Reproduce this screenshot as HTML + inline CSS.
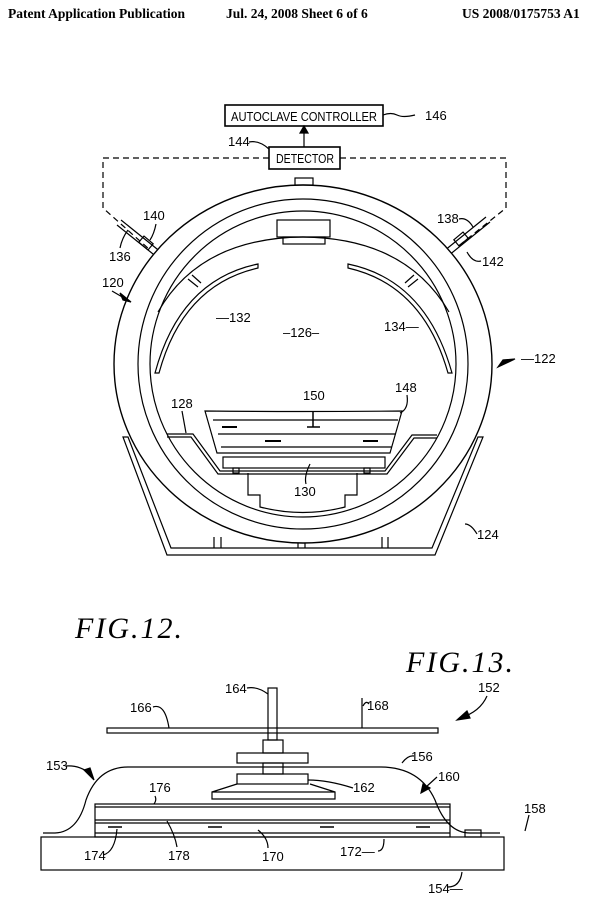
<!DOCTYPE html>
<html><head><meta charset="utf-8"><style>
html,body{margin:0;padding:0;background:#fff}
svg{display:block}
text{font-family:"Liberation Sans",sans-serif;font-size:13px;fill:#000}
.h{font-family:"Liberation Serif",serif;font-weight:bold;font-size:13.5px}
.f{font-family:"Liberation Serif",serif;font-style:italic;font-size:30px;letter-spacing:2px}
</style></head><body>
<svg width="612" height="902" viewBox="0 0 612 902" xmlns="http://www.w3.org/2000/svg">
<g fill="none" stroke="#000" stroke-width="1.2">
<text class="h" x="8" y="18" stroke="none">Patent Application Publication</text>
<text class="h" x="226" y="18" stroke="none">Jul. 24, 2008   Sheet 6 of 6</text>
<text class="h" x="462" y="18" stroke="none">US 2008/0175753 A1</text>

<!-- controller / detector -->
<rect x="225" y="105" width="158" height="21" stroke-width="1.6"/>
<text x="231" y="121" stroke="none" textLength="146" lengthAdjust="spacingAndGlyphs">AUTOCLAVE CONTROLLER</text>
<path d="M383 115 q8 -3 14 0 t18 0"/>
<text x="425" y="120" stroke="none">146</text>
<rect x="269" y="147" width="71" height="22" stroke-width="1.6"/>
<text x="276" y="163" stroke="none" textLength="58" lengthAdjust="spacingAndGlyphs">DETECTOR</text>
<path d="M304 147 V131"/><path d="M300 133 L304 126 L308 133 Z" fill="#000"/>
<text x="228" y="146" stroke="none">144</text>
<path d="M249 142 q10 -2 20 7"/>
<path d="M269 158 H103 V208 L150 250" stroke-dasharray="6,4"/>
<path d="M340 158 H506 V208 L456 248" stroke-dasharray="6,4"/>

<!-- base (behind rings) -->
<path d="M123 437 L167 555 H435 L483 437 L478 437 L432 548 H171 L128 437 Z" fill="#fff"/>
<path d="M214 537 V548 M221 537 V548 M298 537 V548 M305 537 V548 M382 537 V548 M388 537 V548"/>
<text x="477" y="539" stroke="none">124</text><path d="M465 524 q6 0 12 10"/>

<!-- probes -->
<path d="M117 225 L158 258 M121 220 L162 253"/>
<rect x="-6" y="-4" width="12" height="8" transform="translate(146 243) rotate(40)"/>
<path d="M490 222 L448 256 M486 217 L444 251"/>
<rect x="-6" y="-4" width="12" height="8" transform="translate(461 239) rotate(-40)"/>
<text x="109" y="261" stroke="none">136</text><path d="M120 248 q2 -10 8 -18"/>
<text x="143" y="220" stroke="none">140</text><path d="M156 224 q-2 10 -6 16"/>
<text x="437" y="223" stroke="none">138</text><path d="M459 219 q8 -2 14 8"/>
<text x="482" y="266" stroke="none">142</text><path d="M481 261 q-8 2 -14 -9"/>

<!-- vessel rings -->
<ellipse cx="303" cy="364" rx="189" ry="179" stroke-width="1.4" fill="#fff"/>
<ellipse cx="303" cy="364" rx="165" ry="165"/>
<ellipse cx="303" cy="364" rx="153" ry="153"/>
<path d="M158 312 Q200 238 303 237 Q406 238 449 312"/>
<rect x="295" y="178" width="18" height="7"/>
<rect x="277" y="220" width="53" height="17"/>
<rect x="283" y="237" width="42" height="7"/>

<!-- panels -->
<path d="M258 264 Q180 280 155 373 L159 373 Q183 285 258 268 Z"/>
<path d="M348 264 Q426 280 452 373 L448 373 Q423 285 348 268 Z"/>
<path d="M188 279 L198 287 M192 275 L201 283"/>
<path d="M418 279 L408 287 M414 275 L405 283"/>
<text x="216" y="322" stroke="none">—132</text>
<text x="384" y="331" stroke="none">134—</text>
<text x="283" y="337" stroke="none">–126–</text>

<!-- tray 128 -->
<path d="M167 434 H193 L220 471 H385 L412 435 H437"/>
<path d="M167 437 H191 L218 474 H387 L414 438 H437"/>
<text x="171" y="408" stroke="none">128</text><path d="M182 411 L186 433"/>
<!-- platform 130 -->
<rect x="223" y="457" width="162" height="11"/>
<rect x="233" y="468" width="6" height="5"/><rect x="364" y="468" width="6" height="5"/>
<path d="M248 473 V495 H260 V507 Q303 518 345 507 V495 H357 V473"/>
<text x="294" y="496" stroke="none">130</text><path d="M306 484 q-2 -8 4 -20"/>
<!-- hull 148 -->
<path d="M205 411 Q300 412 402 411 L390 453 H217 Z"/>
<path d="M213 420 H398 M218 434 H396 M221 447 H392"/>
<path d="M222 427 H237 M265 441 H281 M363 441 H378" stroke-width="2"/>
<path d="M313 412 V427 M307 427 H320" stroke-width="1.5"/>
<text x="303" y="400" stroke="none">150</text>
<text x="395" y="392" stroke="none">148</text><path d="M407 395 q2 14 -7 18"/>

<!-- 120 / 122 -->
<text x="102" y="287" stroke="none">120</text>
<path d="M112 291 L124 298"/><path d="M120 293 L131 302 L123 300 Z" fill="#000"/>
<text x="521" y="363" stroke="none">—122</text>
<path d="M515 359 L498 367 L503 360 Z" fill="#000"/>

<text class="f" x="75" y="638" stroke="none">FIG.12.</text>
<text class="f" x="406" y="672" stroke="none">FIG.13.</text>

<!-- FIG 13 -->
<rect x="41" y="837" width="463" height="33"/>
<path d="M43 833 H55 Q78 832 86 800 Q98 766 130 767 H380 Q420 767 435 800 Q447 833 470 833 H500"/>
<rect x="465" y="830" width="16" height="7"/>
<rect x="95" y="804" width="355" height="33"/>
<path d="M95 807 H450 M95 820 H450 M95 823 H450 M95 833 H450"/>
<path d="M108 827 H122 M208 827 H222 M320 827 H334 M416 827 H430" stroke-width="1.5"/>
<rect x="107" y="728" width="331" height="5"/>
<rect x="268" y="688" width="9" height="52"/>
<path d="M362 698 V728"/>
<rect x="263" y="740" width="20" height="13"/>
<rect x="237" y="753" width="71" height="10"/>
<rect x="263" y="763" width="20" height="11"/>
<rect x="237" y="774" width="71" height="10"/>
<path d="M237 784 L212 792 V799 H335 V792 L310 784 M212 792 H335"/>
<text x="225" y="693" stroke="none">164</text><path d="M247 688 q10 -2 21 6"/>
<text x="130" y="712" stroke="none">166</text><path d="M153 707 q12 -4 16 21"/>
<text x="367" y="710" stroke="none">168</text><path d="M363 706 q3 -6 6 -2"/>
<text x="478" y="692" stroke="none">152</text>
<path d="M487 696 Q480 712 460 718"/><path d="M467 711 L457 720 L470 718 Z" fill="#000"/>
<text x="46" y="770" stroke="none">153</text>
<path d="M66 766 Q80 765 90 774"/><path d="M84 770 L94 780 L90 768 Z" fill="#000"/>
<text x="411" y="761" stroke="none">156</text><path d="M402 763 q6 -8 12 -7"/>
<text x="438" y="781" stroke="none">160</text>
<path d="M437 777 L426 787"/><path d="M423 784 L421 793 L430 788 Z" fill="#000"/>
<text x="353" y="792" stroke="none">162</text><path d="M308 780 q20 0 45 8"/>
<text x="149" y="792" stroke="none">176</text><path d="M155 796 q2 4 -1 8"/>
<text x="524" y="813" stroke="none">158</text><path d="M529 815 L525 831"/>
<text x="84" y="860" stroke="none">174</text><path d="M103 855 q12 -3 14 -26"/>
<text x="168" y="860" stroke="none">178</text><path d="M177 847 q-2 -12 -10 -26"/>
<text x="262" y="861" stroke="none">170</text><path d="M268 848 q0 -10 -10 -18"/>
<text x="340" y="856" stroke="none">172—</text><path d="M378 851 q6 0 6 -12"/>
<text x="428" y="893" stroke="none">154—</text><path d="M448 887 q12 0 14 -15"/>
</g>
</svg>
</body></html>
